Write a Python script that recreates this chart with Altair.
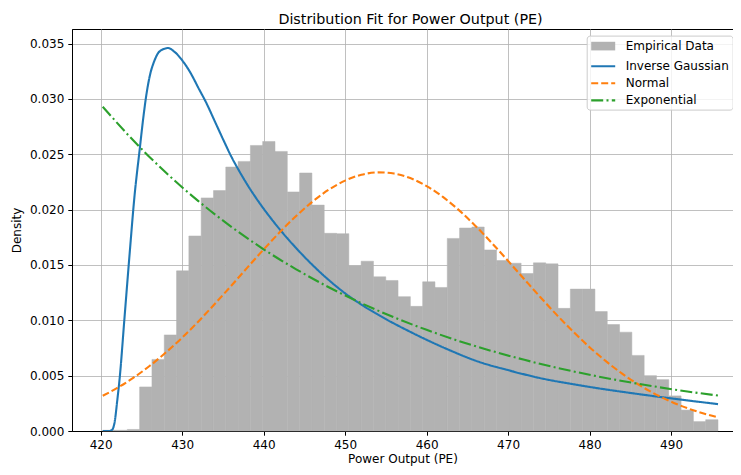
import altair as alt
import pandas as pd

# ---------------- data ----------------
bin_edges = [420.26, 421.77, 423.28, 424.79, 426.30, 427.81, 429.32, 430.83, 432.34, 433.85,
             435.36, 436.87, 438.38, 439.89, 441.40, 442.91, 444.42, 445.93, 447.44, 448.95,
             450.46, 451.97, 453.48, 454.99, 456.50, 458.01, 459.52, 461.03, 462.54, 464.05,
             465.56, 467.07, 468.58, 470.09, 471.60, 473.11, 474.62, 476.13, 477.64, 479.15,
             480.66, 482.17, 483.68, 485.19, 486.70, 488.21, 489.72, 491.23, 492.74, 494.25,
             495.76]
bin_density = [0.00007, 0.00007, 0.00014, 0.00398, 0.00647, 0.00868, 0.01447, 0.01762, 0.02106, 0.02172,
               0.02385, 0.02436, 0.02580, 0.02616, 0.02526, 0.02160, 0.02331, 0.02041, 0.01786, 0.01783,
               0.01492, 0.01534, 0.01393, 0.01360, 0.01214, 0.01126, 0.01348, 0.01297, 0.01740, 0.01834,
               0.01843, 0.01636, 0.01540, 0.01516, 0.01423, 0.01519, 0.01510, 0.01108, 0.01282, 0.01282,
               0.01079, 0.00962, 0.00893, 0.00683, 0.00500, 0.00464, 0.00317, 0.00189, 0.00085, 0.00102]

ig_x = [420.26, 421.0, 421.4, 421.72, 422.05, 422.33, 422.94, 423.56, 424.17, 424.79,
        425.19, 425.6, 426.01, 426.63, 427.24, 428.3, 429, 430, 431, 432,
        433, 434, 435, 436, 437, 438, 439, 440, 441, 442,
        443, 444, 445, 446, 447, 448, 449, 450, 452.19, 454.23,
        458.32, 462.42, 466.5, 469.78, 473.87, 478.77, 486.96, 495.76]
ig_y = [0.0, 0.0, 0.0001, 0.0008, 0.0028, 0.0047, 0.0103, 0.0160, 0.0213, 0.0254,
        0.0280, 0.0303, 0.0320, 0.0335, 0.0343, 0.0346, 0.0343, 0.0335, 0.0324, 0.0310,
        0.0296, 0.0280, 0.0264, 0.02485, 0.0235, 0.02226, 0.02113, 0.02009, 0.01912, 0.0182,
        0.01734, 0.01652, 0.01574, 0.01500, 0.01430, 0.01364, 0.01302, 0.01244, 0.01133, 0.01043,
        0.00884, 0.00743, 0.00623, 0.00554, 0.00479, 0.00413, 0.00324, 0.00243]

norm_x = [420.26, 422, 424, 426, 428, 430, 432, 434, 436, 438,
          440, 442, 444, 446, 448, 450, 452, 454, 456, 458,
          460, 462, 464, 466, 468, 470, 472, 474, 476, 478,
          480, 482, 484, 486, 488, 490, 492, 494, 495.76]
norm_y = [0.00318, 0.00387, 0.00480, 0.00587, 0.00709, 0.00843, 0.00990, 0.01147, 0.01310, 0.01476,
          0.01640, 0.01797, 0.01943, 0.02072, 0.02180, 0.02262, 0.02315, 0.02337, 0.02326, 0.02285,
          0.02213, 0.02115, 0.01993, 0.01853, 0.01699, 0.01537, 0.01371, 0.01206, 0.01047, 0.00897,
          0.00757, 0.00631, 0.00518, 0.00420, 0.00336, 0.00265, 0.00206, 0.00158, 0.00124]

exp_x = [420.26, 424, 428, 432, 436, 440, 444, 448, 452, 456,
         460, 464, 468, 472, 476, 480, 484, 488, 492, 495.76]
exp_y = [0.02930, 0.02626, 0.02335, 0.02077, 0.01847, 0.01642, 0.01461, 0.01299, 0.01155, 0.01027,
         0.00914, 0.00812, 0.00723, 0.00643, 0.00571, 0.00508, 0.00452, 0.00402, 0.00357, 0.00320]

x_ticks = [420, 430, 440, 450, 460, 470, 480, 490]
y_ticks = [0.0, 0.005, 0.010, 0.015, 0.020, 0.025, 0.030, 0.035]
series_names = ["Empirical Data", "Inverse Gaussian", "Normal", "Exponential"]

# ---------------- styles ----------------
BAR = "#b2b2b2"
BLUE = "#1f77b4"
ORANGE = "#ff7f0e"
GREEN = "#2ca02c"
FONT = "DejaVu Sans"
DASH_NORMAL = [7, 3]
DASH_EXP = [12, 3.3, 2, 3.3]

hist_df = pd.DataFrame({"x0": bin_edges[:-1], "x1": bin_edges[1:],
                        "density": bin_density, "base": [0.0] * len(bin_density)})
ig_df = pd.DataFrame({"x": ig_x, "y": ig_y})
norm_df = pd.DataFrame({"x": norm_x, "y": norm_y})
exp_df = pd.DataFrame({"x": exp_x, "y": exp_y})
legend_df = pd.DataFrame({"series": series_names})

x_scale = alt.Scale(domain=[416.49, 497.60], nice=False, zero=False)
y_scale = alt.Scale(domain=[0, 0.03632], nice=False, zero=False)

bars = alt.Chart(hist_df).mark_rect(fill=BAR, stroke=BAR, strokeWidth=0.5).encode(
    x=alt.X("x0:Q", scale=x_scale,
            axis=alt.Axis(values=x_ticks, title="Power Output (PE)", format="d")),
    x2="x1:Q",
    y=alt.Y("density:Q", scale=y_scale,
            axis=alt.Axis(values=y_ticks, format=".3f", title="Density")),
    y2="base:Q",
)


def curve(df, color, dash):
    return alt.Chart(df).mark_line(stroke=color, strokeWidth=2.1, strokeDash=dash,
                                   interpolate="monotone", clip=True).encode(
        x=alt.X("x:Q", scale=x_scale),
        y=alt.Y("y:Q", scale=y_scale),
    )


ig_line = curve(ig_df, BLUE, [1, 0])
norm_line = curve(norm_df, ORANGE, DASH_NORMAL)
exp_line = curve(exp_df, GREEN, DASH_EXP)

rect_path = "M-1,-0.72H3V0.72H-1Z"
line_path = "M-1,0H3"

leg = alt.Legend(orient="none", legendX=514.7, legendY=6.6, padding=3,
                 fillColor="rgba(255,255,255,0.8)", strokeColor="#cccccc", cornerRadius=3,
                 symbolSize=144, symbolStrokeWidth=2.1, symbolOpacity=1,
                 labelFont=FONT, labelFontSize=12, labelColor="black",
                 labelOffset=21, rowPadding=3.1, labelLimit=300)

legend_layer = alt.Chart(legend_df).transform_filter("false").mark_point(
    opacity=1, strokeWidth=2.1).encode(
    fill=alt.Fill("series:N", title=None, legend=leg,
                  scale=alt.Scale(domain=series_names,
                                  range=[BAR, "transparent", "transparent", "transparent"])),
    stroke=alt.Stroke("series:N", title=None, legend=leg,
                      scale=alt.Scale(domain=series_names,
                                      range=["transparent", BLUE, ORANGE, GREEN])),
    shape=alt.Shape("series:N", title=None, legend=leg,
                    scale=alt.Scale(domain=series_names,
                                    range=[rect_path, line_path, line_path, line_path])),
    strokeDash=alt.StrokeDash("series:N", title=None, legend=leg,
                              scale=alt.Scale(domain=series_names,
                                              range=[[1, 0], [1, 0], DASH_NORMAL, DASH_EXP])),
)

chart = alt.layer(bars, ig_line, norm_line, exp_line, legend_layer).properties(
    width=661, height=402,
    autosize=alt.AutoSizeParams(type="none"),
    padding={"left": 64, "top": 21, "right": 0, "bottom": 36},
    title="Distribution Fit for Power Output (PE)",
).configure_axis(
    labelFont=FONT, labelFontSize=12, labelColor="black",
    titleFont=FONT, titleFontSize=12, titleColor="black", titleFontWeight="normal",
    domainColor="black", domainWidth=1, tickColor="black", tickWidth=1, tickSize=4.2,
    gridColor="#b0b0b0", gridWidth=0.8, labelPadding=4,
).configure_axisX(titlePadding=3).configure_axisY(titlePadding=6).configure_view(
    stroke="black", strokeWidth=1
).configure_title(
    font=FONT, fontSize=14.3, fontWeight="normal", color="black", anchor="middle",
    offset=2, baseline="alphabetic", dx=8
)

chart.save("out.html", embed_options={"renderer": "svg", "actions": False})
